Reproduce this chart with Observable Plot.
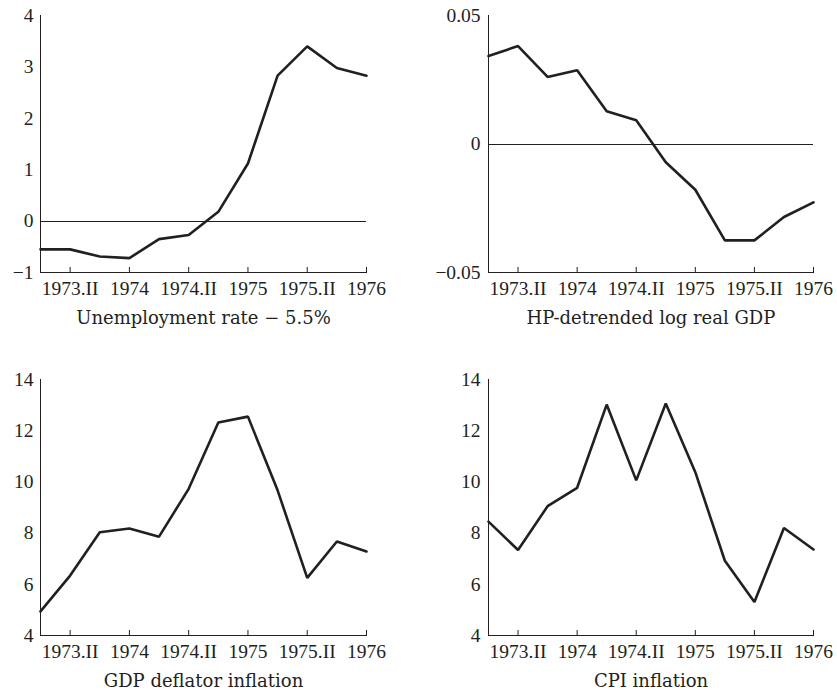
<!DOCTYPE html>
<html><head><meta charset="utf-8">
<script src="https://cdn.jsdelivr.net/npm/d3@7"></script>
<script src="https://cdn.jsdelivr.net/npm/@observablehq/plot@0.6"></script>
<style>
body{margin:0;background:#fff;width:837px;height:696px;overflow:hidden;position:relative;font-family:"Liberation Serif",serif}
.panel{position:absolute}
</style></head><body>
<div id="p1" class="panel" style="left:0;top:0"></div>
<div id="p2" class="panel" style="left:418px;top:0"></div>
<div id="p3" class="panel" style="left:0;top:340px"></div>
<div id="p4" class="panel" style="left:418px;top:340px"></div>
<script>
// quarterly observations (index of quarter)
const quarterIndex = [0, 1, 2, 3, 4, 5, 6, 7, 8, 9, 10, 11];
const tickPositions = [1, 3, 5, 7, 9, 11];
const tickLabels = ["1973.II", "1974", "1974.II", "1975", "1975.II", "1976"];

const unemployment = [-0.55, -0.55, -0.69, -0.72, -0.35, -0.27, 0.18, 1.12, 2.83, 3.40, 2.98, 2.83];
const gdpGap = [0.0342, 0.0381, 0.0261, 0.0287, 0.0127, 0.0092, -0.0071, -0.0178, -0.0375, -0.0375, -0.0284, -0.0227];
const deflator = [4.94, 6.34, 8.03, 8.18, 7.86, 9.73, 12.32, 12.55, 9.67, 6.25, 7.67, 7.28];
const cpi = [8.45, 7.34, 9.05, 9.77, 13.02, 10.06, 13.06, 10.38, 6.92, 5.31, 8.20, 7.36];

const titles = ["Unemployment rate \u2212 5.5%", "HP-detrended log real GDP", "GDP deflator inflation", "CPI inflation"];
const yDomains = [[-1, 4], [-0.05, 0.05], [4, 14], [4, 14]];
const yTicks = [[-1, 0, 1, 2, 3, 4], [-0.05, 0, 0.05], [4, 6, 8, 10, 12, 14], [4, 6, 8, 10, 12, 14]];

const ink = "#231f20";
const fmt = d => String(d).replace("-", "\u2212");

function panel(id, values, k, layout) {
  const chart = Plot.plot({
    width: layout.width,
    height: layout.height,
    marginLeft: layout.marginLeft,
    marginRight: layout.marginRight,
    marginTop: layout.marginTop,
    marginBottom: layout.marginBottom,
    style: {fontFamily: "'Liberation Serif', serif", fontSize: "19.5px", color: ink, background: "white", overflow: "visible"},
    x: {domain: [0, 11]},
    y: {domain: yDomains[k]},
    marks: [
      Plot.frame({anchor: "left", stroke: ink, shapeRendering: "crispEdges"}),
      Plot.frame({anchor: "bottom", stroke: ink, shapeRendering: "crispEdges"}),
      layout.zero ? Plot.ruleY([0], {stroke: ink, strokeWidth: 1, shapeRendering: "crispEdges"}) : null,
      Plot.axisY({ticks: yTicks[k], tickFormat: fmt, tickSize: 0, tickPadding: layout.yPad, label: null}),
      Plot.axisX({
        ticks: tickPositions,
        tickFormat: d => tickLabels[tickPositions.indexOf(d)],
        tickSize: -5, tickPadding: 14, label: null
      }),
      Plot.text([titles[k]], {frameAnchor: "bottom", dy: 51, fontFamily: "'DejaVu Serif', serif", fontSize: 18, fill: ink}),
      Plot.lineY(values, {x: (d, i) => quarterIndex[i], y: d => d, stroke: ink, strokeWidth: 2.6, strokeLinejoin: "miter"})
    ]
  });
  document.getElementById(id).appendChild(chart);
}

const leftTop = {width: 418, height: 335, marginLeft: 40, marginRight: 52, marginTop: 15, marginBottom: 63, yPad: 7, zero: true};
const rightTop = {width: 419, height: 335, marginLeft: 70, marginRight: 24, marginTop: 15, marginBottom: 63, yPad: 8, zero: true};
const leftBot = {width: 418, height: 356, marginLeft: 40, marginRight: 52, marginTop: 39, marginBottom: 61, yPad: 7, zero: false};
const rightBot = {width: 419, height: 356, marginLeft: 70, marginRight: 24, marginTop: 39, marginBottom: 61, yPad: 8, zero: false};

panel("p1", unemployment, 0, leftTop);
panel("p2", gdpGap, 1, rightTop);
panel("p3", deflator, 2, leftBot);
panel("p4", cpi, 3, rightBot);
</script>
</body></html>
